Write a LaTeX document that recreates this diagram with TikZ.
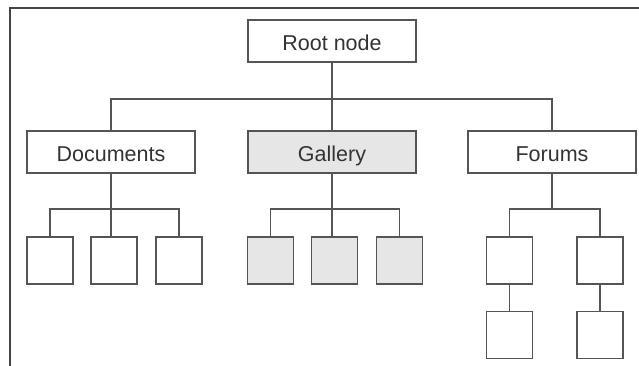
\documentclass[tikz,border=0pt]{standalone}
\usepackage{fontspec}
\setmainfont{Liberation Sans}
\definecolor{linegray}{HTML}{555555}
\definecolor{textgray}{HTML}{333333}
\definecolor{framegray}{HTML}{444444}
\definecolor{shade}{HTML}{E6E6E6}
\begin{document}
\begin{tikzpicture}[x=1pt,y=-1pt,
  box/.style={draw=linegray, line width=1.3pt, fill=white, inner sep=0pt,
    minimum width=168pt, minimum height=42pt, text=textgray,
    text height=20pt, text depth=0pt,
    font=\fontsize{21.5}{24}\selectfont},
  leaf/.style={draw=linegray, line width=1.3pt, fill=white, inner sep=0pt,
    minimum width=46pt, minimum height=47pt},
  grey/.style={fill=shade},
  wire/.style={draw=linegray, line width=1.3pt}]
  \useasboundingbox (0,0) rectangle (639,366);
  % frame
  \draw[framegray, line width=2pt] (9.5,366) -- (9.5,8) -- (639,8);

  % top level
  \node[box] (root) at (332,41) {Root node};
  % sections
  \node[box] (docs) at (111,152) {Documents};
  \node[box, grey] (gal) at (332,152) {Gallery};
  \node[box] (forum) at (552,152) {Forums};
  % documents leaves
  \node[leaf] (d1) at (50,260.5) {};
  \node[leaf] (d2) at (114,260.5) {};
  \node[leaf] (d3) at (179,260.5) {};
  % gallery leaves
  \node[leaf, grey] (g1) at (270.5,260.5) {};
  \node[leaf, grey] (g2) at (334.5,260.5) {};
  \node[leaf, grey] (g3) at (399.5,260.5) {};
  % forum leaves
  \node[leaf] (f1) at (509.5,260.5) {};
  \node[leaf] (f2) at (600,260.5) {};
  \node[leaf] (f3) at (509.5,335) {};
  \node[leaf] (f4) at (600,335) {};

  % connectors
  \coordinate (bus) at (0,99);
  \coordinate (sub) at (0,209);
  \draw[wire] (root.south) -- (root.south |- gal.north);
  \draw[wire] (docs.north) -- (docs.north |- bus) -- (forum.north |- bus) -- (forum.north);

  \draw[wire] (docs.south) -- (docs.south |- d2.north);
  \draw[wire] (d1.north) -- (d1.north |- sub) -- (d3.north |- sub) -- (d3.north);

  \draw[wire] (gal.south) -- (gal.south |- g2.north);
  \draw[wire] (g1.north) -- (g1.north |- sub) -- (g3.north |- sub) -- (g3.north);

  \draw[wire] (forum.south) -- (forum.south |- sub);
  \draw[wire] (f1.north) -- (f1.north |- sub) -- (f2.north |- sub) -- (f2.north);
  \draw[wire] (f1.south) -- (f3.north);
  \draw[wire] (f2.south) -- (f4.north);
\end{tikzpicture}
\end{document}
